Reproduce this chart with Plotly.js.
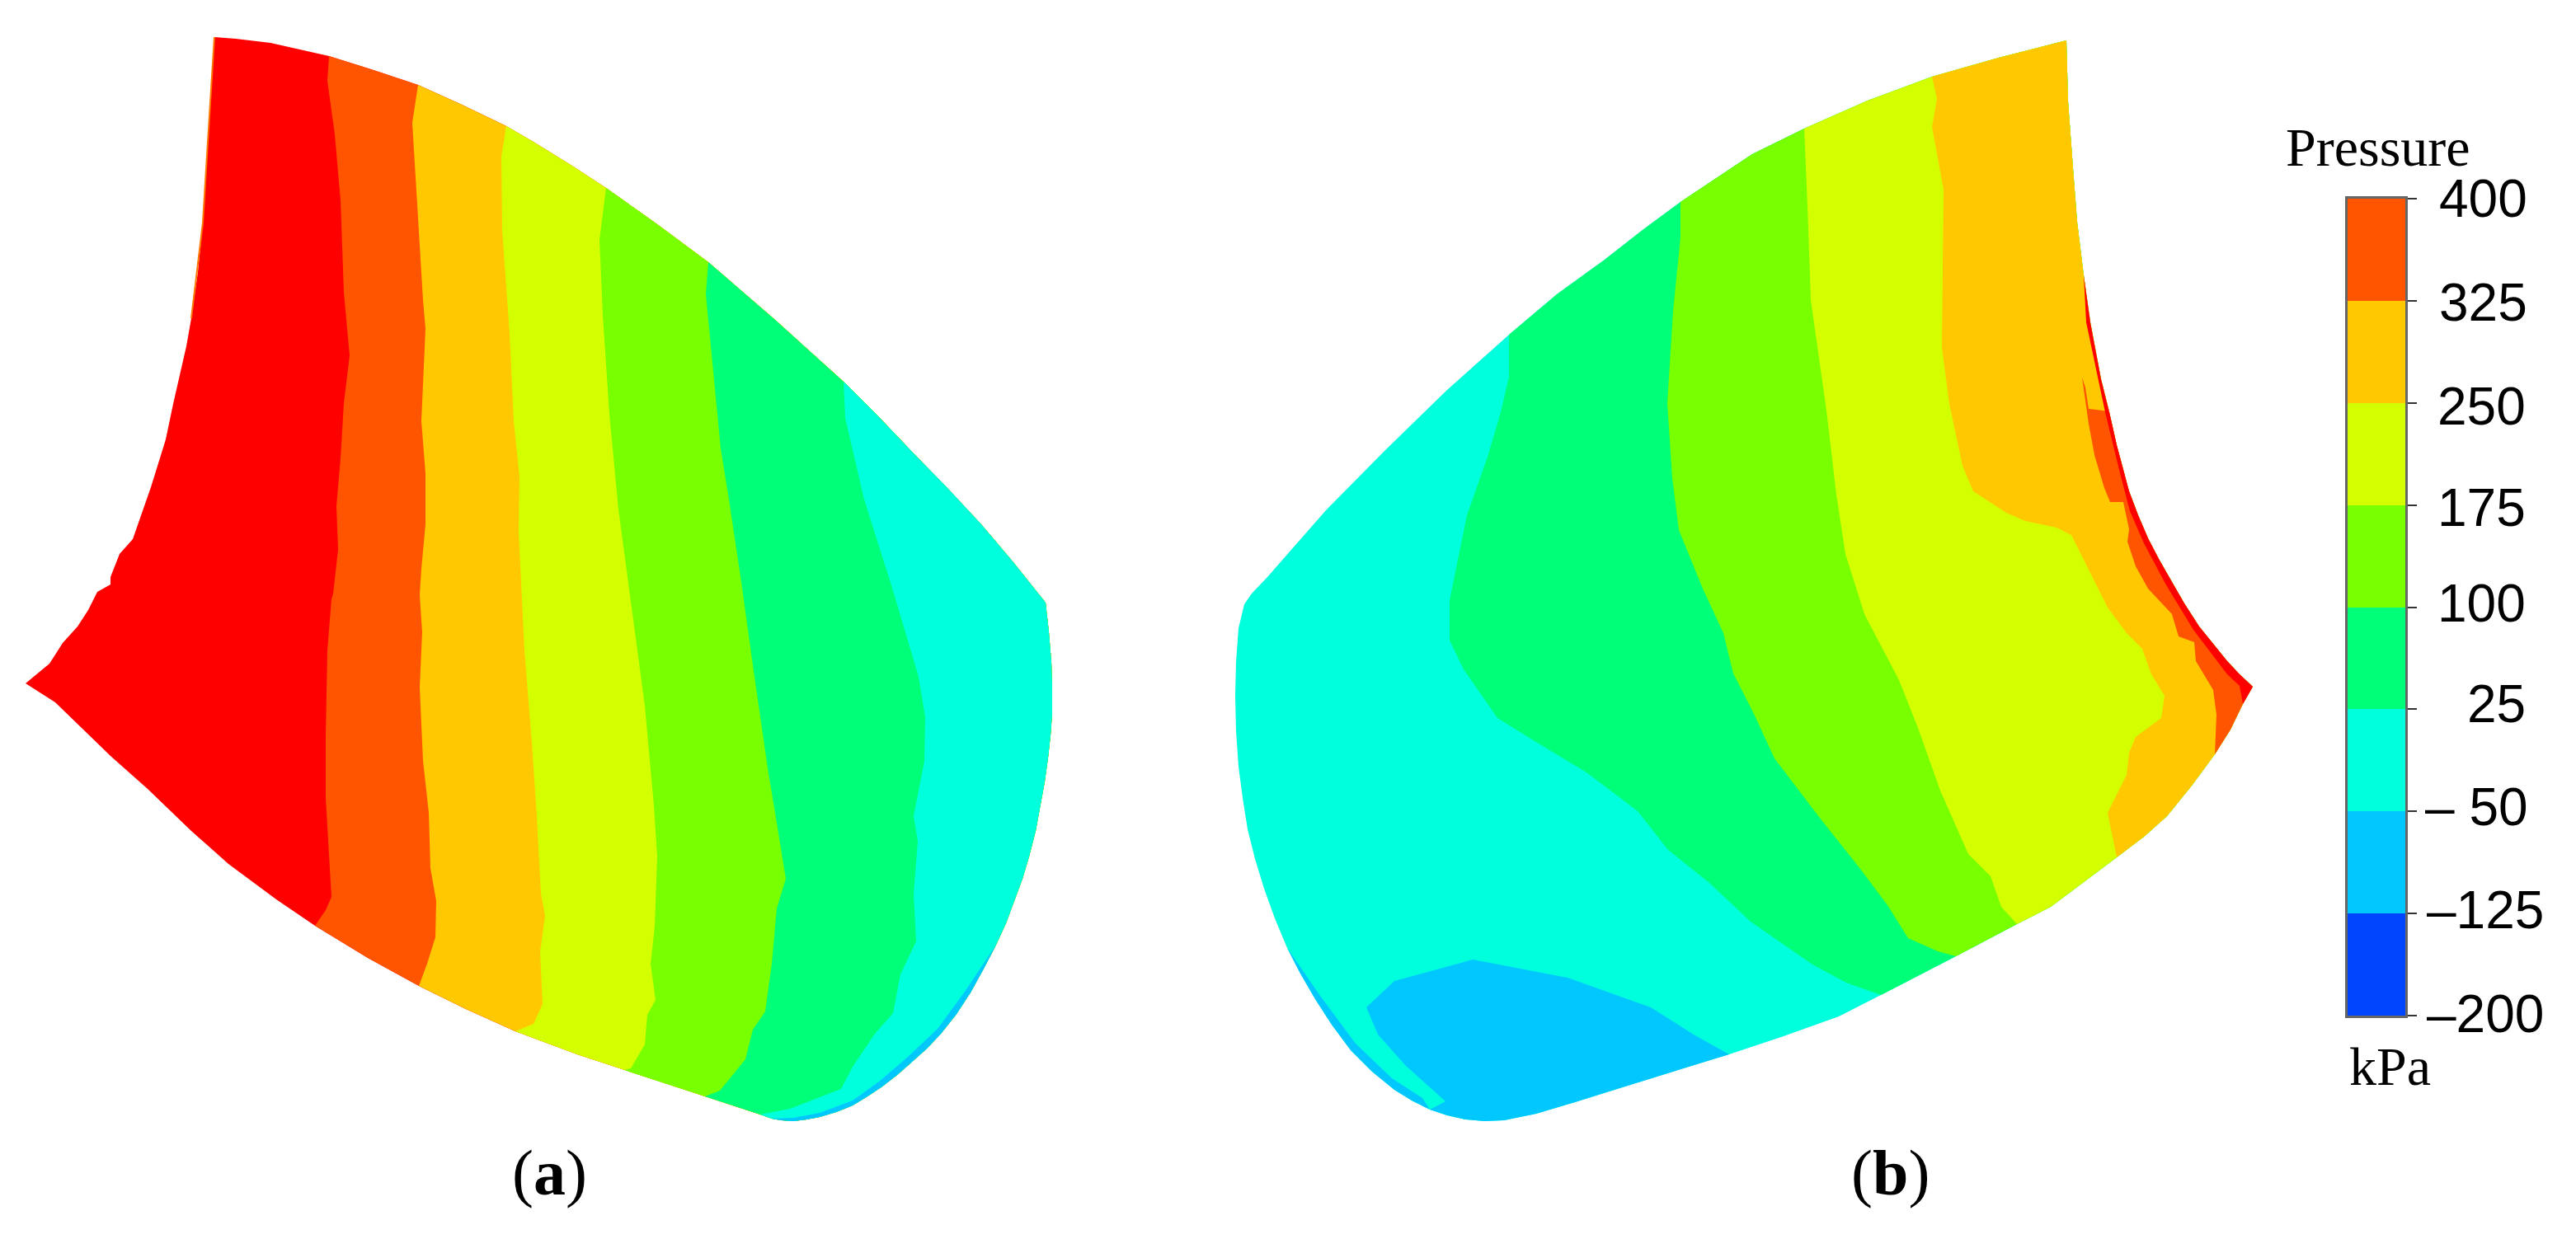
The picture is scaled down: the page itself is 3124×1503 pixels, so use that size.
<!DOCTYPE html>
<html>
<head>
<meta charset="utf-8">
<script src="https://cdn.plot.ly/plotly-3.0.1.min.js"></script>
<style>body { margin: 0; background: #fff; }</style>
</head>
<body>
<div id="chart" style="width:3124px;height:1503px;"></div>
<script>
// pressure levels, kPa
var levels = [-200, -125, -50, 25, 100, 175, 250, 325, 400];
var levelText = ['–200', '–125', '– 50', '25', '100', '175', '250', '325', '400'];
var bandColors = ['#0046FF', '#00C8FF', '#00FFDC', '#00FF78', '#78FF00', '#D4FF00', '#FFC800', '#FF5500'];
var peakColor = '#FF0000';

// blade (a) outline, clockwise from the top left corner
var aOutlineX = [260,286,328,365,399,453,507,560,614,650,692,735,797,859,940,1023,1065,1106,1148,1189,1228,1264,1268,1272,1275,1276,1276,1274,1271,1267,1262,1256,1248,1240,1230,1220,1208,1193,1177,1160,1141,1124,1105,1088,1070,1052,1034,1014,994,978,962,948,936,922,855,757,700,625,565,508,446,382,335,277,232,179,134,67,31,60,76,94,107,118,134,134,145,161,172,183,192,201,210,219,226,232,240,246,252,257];
var aOutlineY = [45,47,52,60,68,85,103,127,153,174,200,228,272,318,388,463,505,548,591,635,681,726,731,767,803,835,865,892,919,948,977,1008,1039,1066,1093,1120,1146,1175,1204,1230,1254,1272,1289,1304,1318,1330,1341,1349,1355,1358,1360,1359,1357,1352,1330,1298,1279,1251,1224,1196,1162,1123,1091,1048,1008,957,917,852,829,805,780,760,740,718,709,700,672,654,622,591,562,533,490,449,420,386,330,270,172,96];

// blade (a) contours, top to bottom
var aRedX = [399,397,406,413,417,424,417,413,408,410,404,402,397,395,395,399,402,395,382];
var aRedY = [68,98,163,243,355,431,489,556,614,667,720,727,789,892,968,1035,1088,1104,1123];
var aOrangeX = [507,500,507,513,516,513,511,516,516,511,509,512,509,513,520,522,529,528,518,508];
var aOrangeY = [103,149,261,364,399,466,511,574,636,690,722,767,834,923,986,1053,1093,1137,1169,1196];
var aAmberX = [614,608,609,618,623,630,629,633,636,645,651,656,661,655,658,647,625];
var aAmberY = [153,190,279,404,511,578,645,720,789,901,990,1084,1111,1155,1218,1242,1251];
var aYellowX = [735,727,731,739,750,762,771,782,793,797,794,789,795,785,782,765,757];
var aYellowY = [228,291,382,502,618,706,776,856,977,1039,1124,1169,1213,1231,1267,1296,1298];
var aGreenX = [859,856,864,874,884,899,913,931,940,953,942,936,928,913,904,873,855];
var aGreenY = [318,357,440,544,606,706,807,932,986,1066,1102,1169,1227,1249,1285,1323,1330];
var aSpringX = [1023,1025,1048,1081,1114,1122,1121,1108,1113,1108,1111,1092,1083,1061,1034,1020,958,922];
var aSpringY = [463,507,606,710,821,870,923,990,1021,1084,1142,1182,1229,1254,1294,1321,1345,1352];
var aRimX = [1208,1170,1137,1100,1066,1034,994,962,936];
var aRimY = [1146,1203,1248,1283,1312,1335,1350,1356,1357];
var aFringeX = [260,257,252,246,238,232];
var aFringeY = [45,96,172,270,340,386];

// blade (b) outline, clockwise from the left corner
var bOutlineX = [1509,1518,1537,1608,1679,1755,1830,1888,1946,1992,2038,2082,2125,2188,2265,2343,2424,2506,2508,2514,2519,2527,2535,2548,2558,2567,2582,2593,2605,2618,2632,2649,2667,2684,2701,2716,2732,2720,2705,2686,2658,2628,2600,2567,2527,2487,2446,2372,2281,2230,2163,2097,2028,1958,1910,1863,1824,1800,1777,1755,1734,1712,1691,1664,1638,1615,1595,1577,1561,1546,1533,1522,1513,1507,1502,1499,1498,1499,1502];
var bOutlineY = [733,720,700,619,547,473,406,357,315,279,245,216,187,156,122,93,70,49,123,204,269,334,391,460,500,540,596,625,653,678,703,732,760,781,802,818,833,854,885,915,953,990,1015,1040,1070,1100,1121,1160,1207,1233,1257,1279,1300,1322,1337,1351,1359,1360,1358,1353,1346,1335,1322,1300,1274,1243,1212,1181,1150,1114,1078,1042,1006,968,930,887,844,803,762];

// blade (b) contours, top to bottom
var bSpringX = [1830,1830,1820,1804,1779,1758,1758,1775,1816,1866,1924,1986,2023,2073,2123,2198,2239,2281];
var bSpringY = [406,457,500,554,625,728,777,812,871,902,937,984,1031,1071,1118,1170,1192,1207];
var bGreenX = [2038,2038,2029,2022,2028,2036,2065,2090,2102,2127,2152,2206,2256,2289,2314,2350,2372];
var bGreenY = [245,288,377,489,580,643,714,768,817,866,920,991,1054,1098,1138,1154,1160];
var bYellowX = [2188,2192,2196,2215,2227,2238,2261,2303,2326,2353,2387,2414,2427,2446];
var bYellowY = [156,250,364,498,600,672,745,825,883,959,1036,1063,1100,1121];
var bAmberX = [2343,2349,2343,2357,2355,2364,2380,2393,2433,2456,2494,2512,2529,2556,2579,2598,2609,2625,2621,2590,2582,2579,2556,2567];
var bAmberY = [93,120,154,230,422,490,565,596,622,632,640,649,684,737,768,787,818,844,871,894,913,940,986,1040];
var bOrangeX = [2558,2550,2533,2529,2525,2533,2540,2552,2559,2575,2582,2580,2590,2605,2634,2642,2661,2663,2684,2688,2686];
var bOrangeY = [500,498,496,470,458,514,552,592,609,609,642,657,687,714,745,772,779,802,837,867,915];
var bRedX = [2527,2530,2540,2553,2570,2583,2600,2626,2660,2701,2716,2720];
var bRedY = [334,391,440,500,570,620,659,708,764,818,832,854];
var bLowX = [2097,2054,2002,1901,1786,1691,1657,1671,1705,1753,1734];
var bLowY = [1279,1255,1222,1186,1164,1190,1222,1255,1293,1336,1346];
var bRimX = [1734,1725,1688,1644,1601,1561];
var bRimY = [1346,1332,1308,1266,1208,1150];

function nearest(xs, ys, x, y) {
    var best = 0, bestDist = Infinity;
    for (var i = 0; i < xs.length; i++) {
        var d = (xs[i] - x) * (xs[i] - x) + (ys[i] - y) * (ys[i] - y);
        if (d < bestDist) { bestDist = d; best = i; }
    }
    return best;
}

// region between a contour and the part of the outline it cuts off
function region(outX, outY, cX, cY, color) {
    var n = cX.length - 1;
    var i0 = nearest(outX, outY, cX[0], cY[0]);
    var i1 = nearest(outX, outY, cX[n], cY[n]);
    return {
        x: outX.slice(i0, i1 + 1).concat(cX.slice().reverse()),
        y: outY.slice(i0, i1 + 1).concat(cY.slice().reverse()),
        type: 'scatter',
        mode: 'lines',
        fill: 'toself',
        fillcolor: color,
        line: {width: 0},
        hoverinfo: 'skip'
    };
}

function whole(outX, outY, color) {
    return {
        x: outX,
        y: outY,
        type: 'scatter',
        mode: 'lines',
        fill: 'toself',
        fillcolor: color,
        line: {width: 0},
        hoverinfo: 'skip'
    };
}

function rim(x, y, color) {
    return {x: x, y: y, type: 'scatter', mode: 'lines', line: {color: color, width: 2}, hoverinfo: 'skip'};
}

// stepped colour scale for the bar
var bandZ = [];
var barScale = [];
for (var i = 0; i < bandColors.length; i++) {
    bandZ.push([levels[i] + 37.5]);
    barScale.push([i / bandColors.length, bandColors[i]]);
    barScale.push([(i + 1) / bandColors.length, bandColors[i]]);
}

var colorBar = {
    type: 'heatmap',
    x: [0, 1],
    y: levels,
    z: bandZ,
    xaxis: 'x2',
    yaxis: 'y2',
    zmin: -200,
    zmax: 400,
    colorscale: barScale,
    showscale: false,
    hoverinfo: 'skip'
};

var data = [
    whole(aOutlineX, aOutlineY, peakColor),
    region(aOutlineX, aOutlineY, aRedX, aRedY, bandColors[7]),
    region(aOutlineX, aOutlineY, aOrangeX, aOrangeY, bandColors[6]),
    region(aOutlineX, aOutlineY, aAmberX, aAmberY, bandColors[5]),
    region(aOutlineX, aOutlineY, aYellowX, aYellowY, bandColors[4]),
    region(aOutlineX, aOutlineY, aGreenX, aGreenY, bandColors[3]),
    region(aOutlineX, aOutlineY, aSpringX, aSpringY, bandColors[2]),
    region(aOutlineX, aOutlineY, aRimX, aRimY, bandColors[1]),
    rim(aFringeX, aFringeY, '#FF7700'),
    whole(bOutlineX, bOutlineY, bandColors[2]),
    region(bOutlineX, bOutlineY, bSpringX, bSpringY, bandColors[3]),
    region(bOutlineX, bOutlineY, bGreenX, bGreenY, bandColors[4]),
    region(bOutlineX, bOutlineY, bYellowX, bYellowY, bandColors[5]),
    region(bOutlineX, bOutlineY, bAmberX, bAmberY, bandColors[6]),
    region(bOutlineX, bOutlineY, bOrangeX, bOrangeY, bandColors[7]),
    region(bOutlineX, bOutlineY, bRedX, bRedY, peakColor),
    region(bOutlineX, bOutlineY, bLowX, bLowY, bandColors[1]),
    region(bOutlineX, bOutlineY, bRimX, bRimY, bandColors[1]),
    colorBar
];

var sans = {family: '"Liberation Sans", Arial, sans-serif', size: 64, color: '#000'};
var serif = {family: '"Liberation Serif", "Times New Roman", serif', size: 66, color: '#000'};
var panel = {family: '"Liberation Serif", "Times New Roman", serif', size: 78, color: '#000'};

var labelCenterY = [1230, 1104, 979, 854, 732, 616, 493, 367, 241];
var labelRight = [3087, 3087, 3068, 3065, 3065, 3065, 3065, 3067, 3067];

var notes = [
    {text: 'Pressure', x: 2884, y: 178, font: serif},
    {text: 'kPa', x: 2898, y: 1293, font: serif},
    {text: '(<b>a</b>)', x: 666, y: 1422, font: panel},
    {text: '(<b>b</b>)', x: 2292, y: 1422, font: panel}
];
levelText.forEach(function(t, i) {
    notes.push({text: t, x: labelRight[i], y: labelCenterY[i], xanchor: 'right', font: sans});
});
notes.forEach(function(n) {
    n.xref = 'x';
    n.yref = 'y';
    n.showarrow = false;
    n.yanchor = 'middle';
    if (!n.xanchor) n.xanchor = 'center';
});

var layout = {
    width: 3124,
    height: 1503,
    margin: {l: 0, r: 0, t: 0, b: 0},
    paper_bgcolor: '#fff',
    plot_bgcolor: 'rgba(0,0,0,0)',
    showlegend: false,
    xaxis: {range: [0, 3124], visible: false, fixedrange: true},
    yaxis: {range: [1503, 0], visible: false, fixedrange: true},
    xaxis2: {
        domain: [2847 / 3124, 2917 / 3124],
        anchor: 'y2',
        range: [0, 1],
        showticklabels: false,
        ticks: '',
        showgrid: false,
        zeroline: false,
        showline: true,
        mirror: true,
        linewidth: 3,
        linecolor: 'rgba(0,0,0,0.6)'
    },
    yaxis2: {
        domain: [1 - 1232 / 1503, 1 - 241 / 1503],
        anchor: 'x2',
        side: 'right',
        range: [-200, 400],
        tickvals: levels,
        ticks: 'outside',
        ticklen: 11,
        tickwidth: 2,
        tickcolor: '#333',
        showticklabels: false,
        showgrid: false,
        zeroline: false,
        showline: true,
        mirror: true,
        linewidth: 3,
        linecolor: 'rgba(0,0,0,0.6)'
    },
    annotations: notes
};

Plotly.newPlot('chart', data, layout, {displayModeBar: false, staticPlot: true});
</script>
</body>
</html>
